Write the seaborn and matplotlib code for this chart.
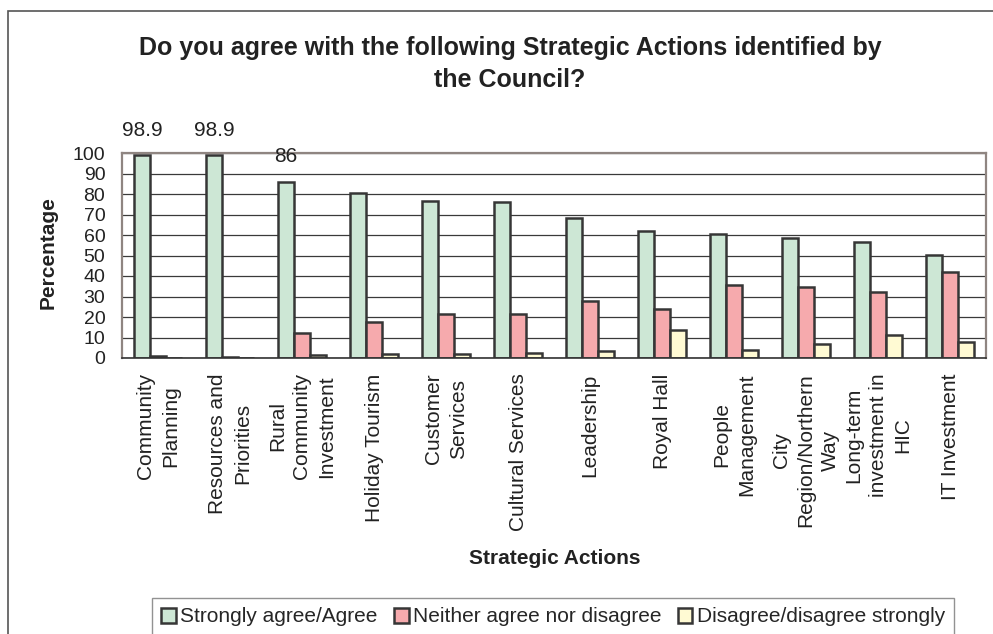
import numpy as np
import pandas as pd
import matplotlib
matplotlib.use("Agg")
import matplotlib.pyplot as plt
from matplotlib.patches import Rectangle
import seaborn as sns

categories = [
    "Community\nPlanning", "Resources and\nPriorities", "Rural\nCommunity\nInvestment",
    "Holiday Tourism", "Customer\nServices", "Cultural Services", "Leadership",
    "Royal Hall", "People\nManagement", "City\nRegion/Northern\nWay",
    "Long-term\ninvestment in\nHIC", "IT Investment",
]
series_names = ["Strongly agree/Agree", "Neither agree nor disagree", "Disagree/disagree strongly"]
agree = [98.9, 98.9, 86, 80.6, 76.7, 76.2, 68.5, 62.0, 60.4, 58.4, 56.4, 50.1]
neither = [0.9, 0.5, 12.4, 17.6, 21.4, 21.4, 27.9, 24.0, 35.6, 34.4, 32.3, 41.8]
disagree = [0.2, 0.2, 1.3, 1.8, 1.8, 2.4, 3.3, 13.7, 3.8, 7.0, 11.1, 7.8]
labelled_bars = 3
yticks = list(range(0, 101, 10))

df = pd.DataFrame({
    "action": categories * 3,
    "response": np.repeat(series_names, len(categories)),
    "pct": agree + neither + disagree,
})

sns.set_style("white")
plt.rcParams["font.family"] = ["Liberation Sans", "DejaVu Sans"]

fig = plt.figure(figsize=(9.93, 6.34), dpi=100)
ax = fig.add_axes([122 / 993, 1 - 358 / 634, 864 / 993, 205 / 634])

palette = ["#cde7d5", "#f6aaad", "#fffad3"]
sns.barplot(data=df, x="action", y="pct", hue="response", order=categories,
            hue_order=series_names, palette=palette, width=0.667, dodge=True,
            edgecolor="#363636", linewidth=1.8, saturation=1, ax=ax, errorbar=None)

# value labels on the first few agreement bars
green = ax.containers[0]
ax.bar_label(green, labels=[f"{v:g}" if i < labelled_bars else "" for i, v in enumerate(agree)],
             padding=11, fontsize=15, color="#222222")

ax.set_xlim(-0.5, len(categories) - 0.5)
ax.set_ylim(0, 100)
ax.set_yticks(yticks)
ax.set_yticklabels([str(t) for t in yticks], fontsize=14, color="#222222")
ax.set_xticks(np.arange(-0.5, len(categories), 1))
ax.set_xticklabels([])
ax.set_xticks(np.arange(len(categories)), labels=categories, minor=True)
ax.tick_params(axis="x", which="minor", length=0, labelsize=15, labelrotation=90,
               pad=11, labelcolor="#222222")
ax.tick_params(axis="x", which="major", length=6, width=1, color="#333333", direction="out")
ax.tick_params(axis="y", length=6, width=1, color="#333333", direction="out", pad=6)
for lab in ax.get_xticklabels(minor=True):
    lab.set_multialignment("center")
    lab.set_linespacing(1.38)

ax.yaxis.grid(True, color="#3a3a3a", linewidth=0.9)
ax.set_axisbelow(True)
for side in ["top", "right", "left"]:
    ax.spines[side].set_color("#8f8581")
    ax.spines[side].set_linewidth(1.6)
ax.spines["bottom"].set_color("#333333")
ax.spines["bottom"].set_linewidth(1.2)

ax.set_xlabel("")
ax.set_ylabel("")
handles, labels = ax.get_legend_handles_labels()
ax.legend_.remove()

fig.text(510 / 993, 1 - 64 / 634,
         "Do you agree with the following Strategic Actions identified by\nthe Council?",
         ha="center", va="center", fontsize=18, fontweight="bold", color="#222222",
         linespacing=1.4)
fig.text(48 / 993, 1 - 253 / 634, "Percentage", rotation=90, ha="center", va="center",
         fontsize=15, fontweight="bold", color="#222222")
fig.text(555 / 993, 1 - 558 / 634, "Strategic Actions", ha="center", va="center",
         fontsize=15, fontweight="bold", color="#222222")

leg = fig.legend(handles, labels, loc="center", bbox_to_anchor=(553 / 993, 1 - 617 / 634),
                 ncol=3, fontsize=15, frameon=True, fancybox=False, edgecolor="#777777",
                 handlelength=0.7, handleheight=0.7, handletextpad=0.2,
                 columnspacing=0.8, borderpad=0.45)
leg.get_frame().set_linewidth(1.0)

fig.add_artist(Rectangle((8 / 993, -0.1), 1.2, 1.1 - 11 / 634, transform=fig.transFigure,
                         fill=False, edgecolor="#555555", linewidth=1.2))

fig.savefig("out.png", dpi=100)
